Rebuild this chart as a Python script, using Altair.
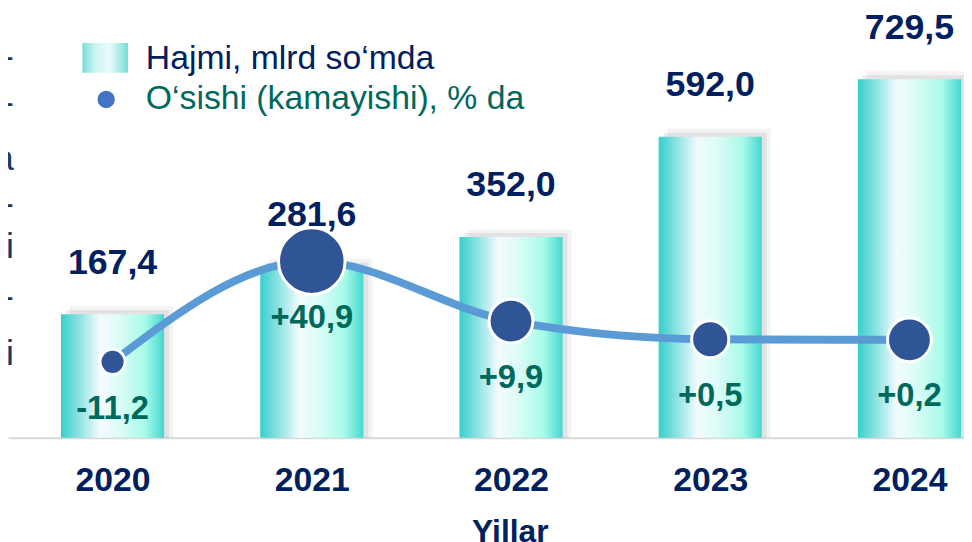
import altair as alt
import pandas as pd

# ---------------- data ----------------
years = [2020, 2021, 2022, 2023, 2024]
volume = [167.4, 281.6, 352.0, 592.0, 729.5]          # Hajmi, mlrd so'mda
growth = [-11.2, 40.9, 9.9, 0.5, 0.2]                 # O'sishi, % da
volume_labels = ["167,4", "281,6", "352,0", "592,0", "729,5"]
growth_labels = ["-11,2", "+40,9", "+9,9", "+0,5", "+0,2"]
legend_labels = ["Hajmi, mlrd so\u2018mda", "O\u2018sishi (kamayishi), % da"]
x_title = "Yillar"
edge_fragments = ["o-", "-", "a", "-", "li", "-", "hi"]

# ---------------- styles ----------------
NAVY = "#002060"
TEAL_TXT = "#00695c"
LINE_BLUE = "#5b9bd5"
DOT_BLUE = "#2f5597"
FONT = "Liberation Sans"
MARKER_SIZES = [640, 4500, 1950, 1400, 1950]
FRAGMENT_Y = [47, 94, 150, 195, 239, 289, 347]
BAR_DOMAIN = [-127.6, 894.5]
PCT_DOMAIN = [-50.4, 170.7]

bar_grad = alt.LinearGradient(
    gradient="linear", x1=0, x2=1, y1=0, y2=0,
    stops=[
        alt.GradientStop(color="#36cfcb", offset=0.0),
        alt.GradientStop(color="#8fe3e3", offset=0.18),
        alt.GradientStop(color="#f4fbff", offset=0.38),
        alt.GradientStop(color="#d9fcf6", offset=0.58),
        alt.GradientStop(color="#a6fbe8", offset=0.82),
        alt.GradientStop(color="#45d6cf", offset=1.0),
    ],
)
legend_grad = alt.LinearGradient(
    gradient="linear", x1=0, x2=1, y1=0, y2=0,
    stops=[
        alt.GradientStop(color="#5fd8d2", offset=0.0),
        alt.GradientStop(color="#c9f3f1", offset=0.3),
        alt.GradientStop(color="#e6faf8", offset=0.6),
        alt.GradientStop(color="#5fd8d2", offset=1.0),
    ],
)

df = pd.DataFrame({
    "year": years,
    "volume": volume,
    "growth": growth,
    "vol_label": volume_labels,
    "gr_label": growth_labels,
})

x_enc = alt.X(
    "year:Q",
    scale=alt.Scale(domain=[2019.5, 2024.249], nice=False, zero=False),
    axis=alt.Axis(values=years, format="d", title=x_title, ticks=False, tickSize=0,
                  grid=False, labelPadding=26, titlePadding=20, titleX=506,
                  labelFlush=False, labelOverlap=False,
                  labelFont=FONT, labelFontSize=34, labelFontWeight="bold", labelColor=NAVY,
                  titleFont=FONT, titleFontSize=32, titleFontWeight="bold", titleColor=NAVY,
                  domainColor="#d9d9d9", domainWidth=2),
)
y_bar = alt.Y("volume:Q", scale=alt.Scale(domain=BAR_DOMAIN, nice=False, zero=False), axis=None)
y_pct = alt.Y("growth:Q", scale=alt.Scale(domain=PCT_DOMAIN, nice=False, zero=False), axis=None)

base = alt.Chart(df)

shadow1 = base.mark_bar(width=104, color="#8a8a8a", opacity=0.10, xOffset=9, yOffset=-8).encode(
    x=x_enc, y=y_bar, y2=alt.datum(BAR_DOMAIN[0]))
shadow2 = base.mark_bar(width=104, color="#8a8a8a", opacity=0.16, xOffset=5, yOffset=-4).encode(
    x=x_enc, y=y_bar, y2=alt.datum(BAR_DOMAIN[0]))
bars = base.mark_bar(width=104, color=bar_grad, opacity=1).encode(
    x=x_enc, y=y_bar, y2=alt.datum(BAR_DOMAIN[0]))
bar_text = base.mark_text(font=FONT, fontSize=36, fontWeight="bold", color=NAVY,
                          baseline="alphabetic", dy=-41).encode(
    x=x_enc, y=y_bar, text="vol_label:N")

line = base.mark_line(interpolate="monotone", strokeWidth=8, color=LINE_BLUE, strokeCap="round").encode(
    x=x_enc, y=y_pct)
dots = base.mark_circle(color=DOT_BLUE, stroke="white", strokeWidth=3, opacity=1).encode(
    x=x_enc, y=y_pct,
    size=alt.Size("year:N", scale=alt.Scale(type="ordinal", domain=years, range=MARKER_SIZES),
                  legend=None))
pct_text_pos = base.transform_filter("datum.growth >= 0").mark_text(
    font=FONT, fontSize=33, fontWeight="bold", color=TEAL_TXT, baseline="middle", dy=57).encode(
    x=x_enc, y=y_pct, text="gr_label:N")
pct_text_neg = base.transform_filter("datum.growth < 0").mark_text(
    font=FONT, fontSize=33, fontWeight="bold", color=TEAL_TXT, baseline="middle", dy=48).encode(
    x=x_enc, y=y_pct, text="gr_label:N")

# ---------------- manual legend ----------------
one = alt.Chart(pd.DataFrame({"k": [0]}))
leg_icon = one.mark_rect(fill=legend_grad, opacity=0.85).encode(
    x=alt.value(75), x2=alt.value(121), y=alt.value(33), y2=alt.value(63))
leg_dot = one.mark_circle(color="#4472c4", stroke="white", strokeWidth=3, opacity=1, size=420).encode(
    x=alt.value(99), y=alt.value(90))
leg_t1 = alt.Chart(pd.DataFrame({"t": [legend_labels[0]]})).mark_text(
    font=FONT, fontSize=34, color=NAVY, align="left", baseline="middle").encode(
    x=alt.value(139), y=alt.value(49), text="t:N")
leg_t2 = alt.Chart(pd.DataFrame({"t": [legend_labels[1]]})).mark_text(
    font=FONT, fontSize=34, color=TEAL_TXT, align="left", baseline="middle").encode(
    x=alt.value(139), y=alt.value(90), text="t:N")

# ---------------- cropped text at the left edge ----------------
frag_layers = []
for s, yy in zip(edge_fragments, FRAGMENT_Y):
    frag_layers.append(
        alt.Chart(pd.DataFrame({"t": [s]})).mark_text(
            font=FONT, fontSize=36, color="#1f3864", align="right", baseline="middle").encode(
            x=alt.value(6), y=alt.value(yy), text="t:N"))

chart = alt.layer(
    shadow1, shadow2, bars, bar_text, line, dots, pct_text_pos, pct_text_neg,
    leg_icon, leg_dot, leg_t1, leg_t2, *frag_layers,
).resolve_scale(y="independent", size="independent").properties(
    width=964, height=431,
    background="white",
    autosize=alt.AutoSizeParams(type="none"),
    padding={"left": 0, "right": 0, "top": 0, "bottom": 103},
).configure_view(stroke=None)

chart.save("out.html", embed_options={"renderer": "svg", "actions": False})
